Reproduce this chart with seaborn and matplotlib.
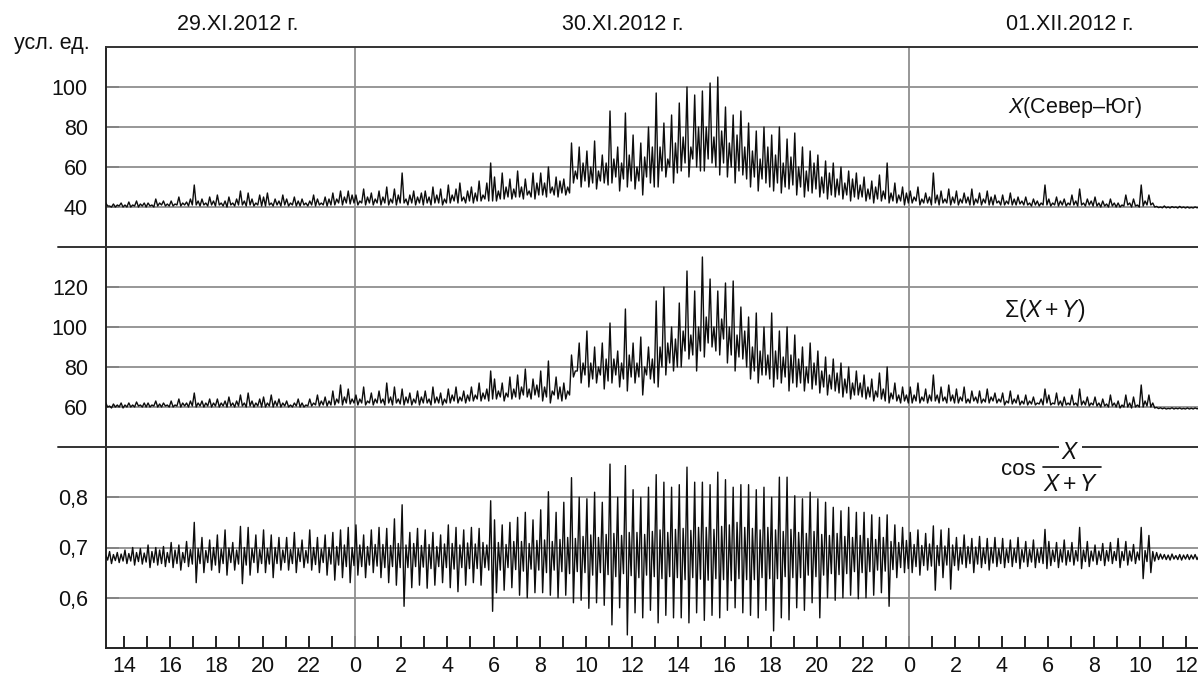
import numpy as np
import pandas as pd
import matplotlib
matplotlib.use("Agg")
import matplotlib.pyplot as plt
import seaborn as sns

# ---------------- data ----------------
# hours counted from 00:00 of 29.XI.2012; six peaks and six troughs per hour
hours = list(range(13, 61))
sub_peak = [0.0417, 0.2083, 0.375, 0.5417, 0.7083, 0.875]
sub_trough = [0.125, 0.2917, 0.4583, 0.625, 0.7917, 0.9583]

x_peaks = [
    41, 42, 40.5, 41.5, 41, 42,      41, 42.5, 41, 43, 41.5, 42,
    42, 41, 44, 42, 43, 41.5,        43, 41.5, 45, 42, 42.5, 44,
    51, 43, 44, 42, 45, 43,          46, 42, 43, 45, 42, 44,
    48, 43, 47, 44, 42, 46,          45, 47, 42, 44, 43, 46,
    44, 42, 45, 43, 44, 42,          43, 46, 44, 42, 45, 44,
    47, 44, 48, 45, 48, 46,          46, 43, 49, 45, 47, 44,
    48, 45, 50, 44, 49, 46,          57, 44, 46, 48, 45, 47,
    48, 45, 50, 46, 49, 44,          51, 46, 49, 52, 45, 48,
    50, 47, 53, 46, 52, 62,          55, 48, 57, 50, 54, 49,
    58, 50, 54, 48, 57, 52,          57, 52, 60, 50, 55, 53,
    54, 50, 72, 58, 70, 62,          68, 60, 73, 58, 66, 62,
    88, 64, 70, 62, 87, 66,          76, 60, 72, 65, 80, 70,
    97, 70, 82, 64, 86, 72,          92, 75, 100, 70, 96, 80,
    98, 80, 102, 75, 105, 78,        90, 72, 86, 76, 88, 70,
    82, 68, 78, 64, 80, 70,          76, 66, 80, 62, 74, 65,
    77, 60, 70, 58, 68, 62,          66, 55, 63, 57, 62, 54,
    60, 52, 58, 54, 57, 51,          55, 49, 53, 50, 56, 48,
    62, 47, 52, 46, 50, 47,          48, 45, 50, 44, 47, 45,
    57, 46, 48, 44, 49, 45,          48, 44, 47, 45, 49, 44,
    47, 44, 48, 45, 46, 43,          46, 43, 47, 44, 45, 43,
    45, 42, 44, 43, 42, 51,          44, 42, 45, 43, 44, 42,
    46, 43, 49, 42, 44, 43,          45, 42, 43, 41.5, 44, 42,
    42, 41, 46, 42, 44, 41,          51, 43, 46, 42, 40.3, 40,
    40.5, 40, 40.2, 40, 40.3, 40,    40, 39.8, 40, 39.9, 40, 39.8,
]
x_troughs = [
    40, 40.5, 40, 40, 40.5, 40,      40, 40, 40.5, 40, 40.5, 40,
    40.5, 40, 40.5, 41, 40.5, 40.5,  40.5, 41, 40.5, 41, 40.5, 41,
    41, 40.5, 41, 40.5, 41, 40.5,    41, 40.5, 40, 41, 40.5, 41,
    41, 40.5, 41, 40.5, 41, 40.5,    40.5, 41, 40.5, 41, 40.5, 41,
    40.5, 41, 40.5, 40.5, 41, 40.5,  41, 40.5, 41, 41, 40.5, 41,
    41, 42, 41, 42, 41.5, 42,        41, 42, 41, 42, 41, 42,
    41, 42, 41, 42, 41, 42,          42, 41, 42, 41, 42, 41,
    42, 41, 42, 42, 41, 42,          42, 43, 42, 43, 42, 43,
    42, 43, 43, 44, 43, 43,          43, 44, 44, 45, 44, 45,
    45, 44, 46, 45, 44, 46,          46, 45, 47, 46, 45, 47,
    46, 47, 52, 54, 50, 53,          50, 52, 49, 53, 52, 51,
    52, 55, 48, 54, 50, 53,          49, 53, 46, 55, 52, 50,
    50, 58, 55, 60, 52, 57,          58, 62, 55, 64, 60, 58,
    58, 64, 62, 60, 56, 62,          55, 60, 52, 58, 56, 54,
    50, 55, 48, 54, 52, 50,          48, 52, 47, 50, 49, 51,
    46, 50, 45, 48, 47, 49,          45, 47, 44, 46, 45, 46,
    44, 46, 43, 45, 44, 45,          43, 44, 42, 44, 43, 44,
    42, 43, 42, 43, 41, 42,          42, 43, 41, 42, 42, 41,
    42, 41, 42, 42, 41, 42,          41, 42, 42, 41, 41, 42,
    41, 42, 41, 41, 42, 41,          41, 41.5, 41, 41, 41.5, 41,
    41, 40.5, 41, 40.5, 41, 41,      40.5, 41, 40.5, 41, 40.5, 41,
    41, 40.5, 41, 40.5, 41, 40.5,    40.5, 40, 40.5, 40, 40.5, 40,
    40, 40.5, 41, 40, 40.5, 40,      40.5, 41, 41, 40, 39.7, 39.6,
    39.6, 39.5, 39.7, 39.5, 39.6, 39.5, 39.5, 39.5, 39.6, 39.5, 39.5, 39.6,
]

s_peaks = [
    61, 62, 60.5, 61.5, 61, 62,      61, 62, 61, 62.5, 61, 62,
    62, 61, 63, 61.5, 62, 61,        63, 61, 64, 62, 62, 63,
    67, 62, 63, 62, 64, 62,          64, 62, 63, 65, 62, 63,
    66, 62, 67, 63, 62, 64,          65, 62, 66, 63, 64, 62,
    63, 61, 62, 64, 62, 61,          64, 62, 66, 63, 65, 63,
    68, 64, 71, 65, 69, 64,          66, 64, 70, 63, 67, 64,
    68, 64, 72, 65, 70, 64,          69, 65, 67, 64, 68, 65,
    68, 64, 70, 65, 67, 64,          69, 66, 70, 65, 68, 66,
    70, 66, 72, 67, 69, 78,          74, 68, 72, 67, 75, 69,
    76, 70, 79, 69, 74, 71,          78, 70, 83, 68, 75, 70,
    72, 68, 86, 78, 92, 82,          98, 82, 90, 80, 92, 84,
    102, 84, 88, 82, 109, 86,        92, 82, 95, 80, 90, 84,
    113, 90, 120, 92, 100, 94,       112, 98, 128, 96, 118, 100,
    135, 105, 124, 100, 118, 104,    122, 100, 123, 96, 110, 98,
    105, 90, 107, 88, 100, 86,       107, 88, 98, 85, 100, 86,
    96, 84, 90, 80, 92, 82,          88, 78, 85, 76, 84, 77,
    82, 74, 80, 72, 78, 72,          76, 70, 74, 68, 77, 69,
    80, 67, 72, 66, 70, 66,          70, 66, 72, 65, 69, 66,
    76, 66, 70, 65, 71, 66,          69, 65, 70, 64, 68, 65,
    68, 64, 69, 65, 67, 64,          67, 63, 68, 64, 66, 63,
    66, 63, 65, 62, 64, 69,          66, 62, 67, 63, 65, 62,
    66, 62, 69, 63, 65, 62,          65, 62, 64, 61.5, 66, 62,
    63, 61, 66, 62, 65, 61,          71, 63, 66, 62, 59.8, 59.6,
    59.5, 59.3, 59.6, 59.4, 59.5, 59.3, 59.5, 59.4, 59.5, 59.3, 59.5, 59.4,
]
s_troughs = [
    60, 60, 59.5, 60, 60, 59.5,      60, 60, 60, 60.5, 60, 60,
    60, 60.5, 60, 60, 60.5, 60,      60, 60.5, 60, 60.5, 60, 60.5,
    60, 60.5, 60, 60.5, 60, 60.5,    60, 60.5, 60, 60.5, 60, 60.5,
    60.5, 60, 60.5, 60, 60.5, 60,    60, 60.5, 60, 60.5, 60, 60.5,
    60, 60, 60.5, 60, 60, 60.5,      60.5, 61, 60.5, 61, 60.5, 61,
    61, 62, 61, 62, 61.5, 62,        61, 62, 61, 62, 61, 62,
    62, 61, 62, 61, 62, 61.5,        61, 62, 61, 62, 61, 62,
    62, 61, 62, 62, 61, 62,          62, 63, 62, 63, 62, 63,
    63, 64, 63, 64, 63, 64,          64, 65, 63, 65, 64, 65,
    64, 66, 65, 64, 66, 65,          63, 65, 62, 66, 64, 63,
    64, 66, 75, 78, 72, 76,          70, 74, 72, 76, 69, 73,
    72, 76, 70, 74, 68, 75,          72, 75, 66, 76, 74, 72,
    70, 80, 76, 82, 78, 80,          80, 88, 84, 86, 78, 88,
    85, 92, 90, 88, 86, 94,          82, 86, 78, 85, 84, 80,
    74, 78, 72, 76, 76, 74,          70, 74, 72, 75, 68, 72,
    70, 72, 68, 72, 69, 71,          67, 70, 66, 69, 68, 67,
    65, 67, 64, 66, 66, 65,          64, 65, 63, 65, 64, 63,
    62, 64, 63, 62, 63, 62,          62, 63, 62, 63, 62, 63,
    63, 62, 63, 62, 63, 62,          62, 63, 62, 62, 63, 62,
    62, 62.5, 62, 63, 62, 62.5,      61, 62, 61.5, 62, 61, 61.5,
    61, 61.5, 61, 61.5, 61, 62,      61, 61.5, 61, 60.5, 61, 61,
    61, 60.5, 61, 61, 60.5, 61,      60.5, 60, 60.5, 60, 60.5, 60,
    59.5, 60, 60, 59.5, 60, 60,      60, 60.5, 60, 59.5, 59.2, 59.1,
    59, 59.1, 59, 59.1, 59, 59,      59, 59, 59.1, 59, 59, 59.1,
]

c_peaks = [
    .688, .685, .692, .686, .690, .687,   .695, .688, .700, .690, .698, .689,
    .705, .692, .700, .695, .702, .690,   .710, .695, .705, .690, .712, .696,
    .750, .698, .720, .694, .715, .700,   .725, .697, .735, .699, .710, .695,
    .742, .700, .740, .698, .725, .696,   .735, .698, .725, .700, .720, .695,
    .720, .696, .730, .698, .715, .694,   .735, .700, .720, .697, .725, .700,
    .730, .702, .735, .705, .740, .700,   .745, .705, .725, .702, .735, .706,
    .740, .706, .738, .704, .757, .708,   .785, .705, .730, .708, .738, .704,
    .735, .706, .730, .702, .725, .707,   .745, .708, .740, .705, .735, .709,
    .740, .707, .738, .710, .705, .793,   .755, .710, .745, .706, .750, .712,
    .760, .712, .770, .708, .755, .714,   .775, .715, .811, .712, .770, .716,
    .790, .720, .839, .718, .800, .722,   .797, .725, .810, .720, .790, .726,
    .866, .728, .800, .724, .863, .730,   .815, .730, .800, .726, .820, .732,
    .845, .735, .830, .730, .820, .736,   .825, .738, .860, .734, .830, .740,
    .830, .740, .825, .736, .850, .742,   .835, .745, .820, .750, .825, .740,
    .825, .738, .815, .735, .820, .740,   .800, .735, .840, .732, .840, .736,
    .803, .730, .797, .728, .810, .732,   .797, .726, .790, .724, .780, .728,
    .773, .722, .780, .720, .770, .724,   .770, .718, .765, .716, .760, .720,
    .765, .712, .745, .710, .740, .714,   .730, .706, .735, .704, .728, .707,
    .743, .704, .735, .703, .738, .705,   .720, .700, .725, .702, .718, .701,
    .722, .699, .718, .700, .720, .698,   .718, .697, .715, .698, .720, .696,
    .712, .696, .715, .697, .700, .736,   .712, .695, .710, .696, .715, .694,
    .710, .694, .740, .695, .712, .693,   .705, .693, .708, .694, .710, .692,
    .718, .692, .712, .693, .706, .691,   .740, .694, .724, .692, .690, .687,
    .686, .685, .687, .684, .686, .685,   .686, .685, .686, .684, .685, .686,
]
c_troughs = [
    .672, .675, .668, .674, .670, .673,   .668, .673, .665, .672, .667, .671,
    .660, .670, .665, .668, .662, .670,   .660, .668, .655, .670, .662, .667,
    .630, .668, .650, .670, .655, .665,   .650, .668, .645, .670, .655, .667,
    .628, .665, .645, .670, .650, .668,   .650, .667, .640, .668, .655, .670,
    .655, .668, .650, .672, .660, .669,   .655, .666, .650, .670, .645, .667,
    .635, .665, .640, .662, .630, .664,   .645, .662, .640, .665, .650, .663,
    .640, .660, .630, .662, .625, .660,   .583, .660, .620, .662, .625, .661,
    .619, .658, .625, .662, .630, .660,   .620, .657, .612, .660, .625, .658,
    .630, .658, .625, .660, .655, .573,   .610, .655, .615, .660, .620, .656,
    .605, .653, .600, .657, .610, .655,   .610, .650, .605, .655, .600, .652,
    .605, .648, .590, .652, .595, .650,   .579, .645, .590, .650, .585, .646,
    .546, .642, .580, .648, .526, .644,   .570, .640, .560, .645, .575, .642,
    .550, .638, .565, .642, .560, .640,   .560, .636, .550, .640, .570, .637,
    .555, .635, .565, .638, .560, .636,   .575, .634, .580, .638, .570, .636,
    .565, .636, .560, .640, .575, .638,   .534, .638, .560, .642, .556, .640,
    .580, .640, .575, .645, .590, .642,   .560, .645, .600, .648, .595, .646,
    .600, .648, .605, .652, .598, .650,   .600, .652, .605, .655, .610, .653,
    .583, .656, .640, .660, .650, .658,   .650, .662, .645, .664, .655, .663,
    .615, .664, .640, .665, .617, .664,   .655, .667, .660, .668, .650, .667,
    .660, .668, .655, .669, .662, .668,   .660, .670, .662, .670, .658, .671,
    .662, .671, .660, .670, .668, .658,   .664, .672, .660, .671, .665, .672,
    .665, .673, .658, .672, .662, .673,   .666, .674, .664, .673, .668, .674,
    .660, .674, .665, .673, .668, .675,   .638, .672, .650, .673, .676, .677,
    .676, .675, .677, .676, .675, .677,   .676, .677, .676, .675, .676, .677,
]

date_labels = ["29.XI.2012 г.", "30.XI.2012 г.", "01.XII.2012 г."]
unit_label = "усл. ед."
x_ticks_major = list(range(14, 61, 2))
x_ticks_minor = list(range(15, 61, 2))
day_bounds = [24, 48]

top_ylim, top_ticks = (20, 120), [40, 60, 80, 100]
mid_ylim, mid_ticks = (40, 140), [60, 80, 100, 120]
bot_ylim, bot_ticks = (0.5, 0.9), [0.6, 0.7, 0.8]
bot_ticklabels = ["0,6", "0,7", "0,8"]


def build(peaks, troughs):
    h = np.asarray(hours, dtype=float)[:, None]
    tp = (h + np.asarray(sub_peak)[None, :]).ravel()
    tt = (h + np.asarray(sub_trough)[None, :]).ravel()
    t = np.empty(tp.size * 2)
    v = np.empty(tp.size * 2)
    t[0::2], t[1::2] = tp, tt
    v[0::2], v[1::2] = peaks, troughs
    return pd.DataFrame({"t": t, "v": v})


df_x = build(x_peaks, x_troughs)
df_s = build(s_peaks, s_troughs)
df_c = build(c_peaks, c_troughs)

# ---------------- style ----------------
sns.set_theme(style="white")
plt.rcParams["font.family"] = ["Liberation Sans", "DejaVu Sans"]
plt.rcParams["mathtext.fontset"] = "custom"
plt.rcParams["mathtext.rm"] = "Liberation Sans"
plt.rcParams["mathtext.it"] = "Liberation Sans:italic"
plt.rcParams["mathtext.bf"] = "Liberation Sans:bold"
FS = 15.5
LINE_C = "#0d0d0d"
GRID_C = "#8f8f8f"

W, H = 1198, 679
fig = plt.figure(figsize=(W / 100, H / 100), dpi=100)
fig.patch.set_facecolor("white")

left_px, right_px = 106, 1198
panels_px = [(47, 247), (247, 447), (447, 648)]
axes = []
for (ytop, ybot) in panels_px:
    ax = fig.add_axes([left_px / W, (H - ybot) / H, (right_px - left_px) / W, (ybot - ytop) / H])
    axes.append(ax)

specs = [
    (df_x, top_ylim, top_ticks, [str(v) for v in top_ticks]),
    (df_s, mid_ylim, mid_ticks, [str(v) for v in mid_ticks]),
    (df_c, bot_ylim, bot_ticks, bot_ticklabels),
]

for i, (ax, (df, ylim, yt, ytl)) in enumerate(zip(axes, specs)):
    ax.set_facecolor("white")
    for yv in yt:
        ax.axhline(yv, color=GRID_C, lw=1.3, zorder=1)
    for xb in day_bounds:
        ax.axvline(xb, color=GRID_C, lw=1.3, zorder=1)
    sns.lineplot(data=df, x="t", y="v", ax=ax, estimator=None, color=LINE_C,
                 lw=1.0, zorder=3, legend=False)
    ax.set_xlim(13.22, 60.5)
    ax.set_ylim(*ylim)
    ax.set_yticks(yt)
    ax.set_yticklabels(ytl, fontsize=FS, color="#111111")
    ax.set_xlabel("")
    ax.set_ylabel("")
    ax.tick_params(axis="y", direction="in", length=9, width=1.3, color="#111111",
                   pad=13, left=True)
    for sp in ["right", "bottom"]:
        ax.spines[sp].set_visible(False)
    ax.spines["left"].set_color("#222222")
    ax.spines["left"].set_linewidth(1.4)
    ax.spines["top"].set_color("#333333")
    ax.spines["top"].set_linewidth(1.4)
    if i > 0:
        # separator line that extends to the left of the axis
        ax.plot([-(left_px - 58) / (right_px - left_px), 0], [1, 1], transform=ax.transAxes,
                color="#333333", lw=1.4, clip_on=False, zorder=5)
    if i < 2:
        ax.tick_params(axis="x", bottom=False, labelbottom=False)

axb = axes[2]
axb.spines["bottom"].set_visible(True)
axb.spines["bottom"].set_color("#222222")
axb.spines["bottom"].set_linewidth(1.4)
axb.set_xticks(x_ticks_major)
axb.set_xticklabels([str(h % 24) for h in x_ticks_major], fontsize=FS, color="#111111")
axb.set_xticks(x_ticks_minor, minor=True)
axb.tick_params(axis="x", which="both", direction="in", length=9, width=1.3,
                color="#111111", bottom=True, pad=6)

# series labels
axes[0].text(0.887, 0.695, r"$X$(Север–Юг)", transform=axes[0].transAxes,
             ha="center", va="center", fontsize=FS, color="#111111", zorder=6)
axes[1].text(0.86, 0.685, r"$\Sigma(X + Y)$", transform=axes[1].transAxes,
             ha="center", va="center", fontsize=FS + 1, color="#111111", zorder=6)
axb.text(0.835, 0.888, "cos", transform=axb.transAxes, ha="center", va="center",
         fontsize=FS + 0.5, color="#111111", zorder=6)
axb.text(0.883, 0.972, r"$X$", transform=axb.transAxes, ha="center", va="center",
         fontsize=FS + 1, color="#111111", zorder=7,
         bbox=dict(facecolor="white", edgecolor="none", pad=1.5))
axb.plot([0.858, 0.911], [0.9, 0.9], transform=axb.transAxes, color="#111111",
         lw=1.2, zorder=7)
axb.text(0.883, 0.815, r"$X + Y$", transform=axb.transAxes, ha="center", va="center",
         fontsize=FS + 1, color="#111111", zorder=7)

# date and unit labels
for xc, lab in zip([238, 623, 1070], date_labels):
    fig.text(xc / W, 1 - 25 / H, lab, ha="center", va="center", fontsize=FS, color="#111111")
fig.text(52 / W, 1 - 43 / H, unit_label, ha="center", va="center", fontsize=FS, color="#111111")

fig.savefig("out.png", dpi=100, facecolor="white")
